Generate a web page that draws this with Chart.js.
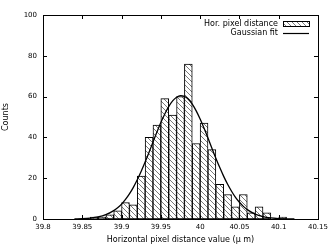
<!DOCTYPE html>
<html><head><meta charset="utf-8">
<script src="https://cdn.jsdelivr.net/npm/chart.js@4"></script>
<style>html,body{margin:0;padding:0;background:#fff}#wrap{width:332px;height:252px}</style>
</head><body><div id="wrap"><canvas id="c" width="332" height="252"></canvas></div>
<script>
// Histogram bins (bin centres, width 0.01) and counts
const binCenters = [39.865, 39.875, 39.885, 39.895, 39.905, 39.915, 39.925, 39.935, 39.945, 39.955,
                    39.965, 39.975, 39.985, 39.995, 40.005, 40.015, 40.025, 40.035, 40.045, 40.055,
                    40.065, 40.075, 40.085, 40.095, 40.105];
const counts = [1, 1, 2, 4, 8, 7, 21, 40, 46, 59,
                51, 60, 76, 37, 47, 34, 17, 12, 6, 12,
                3, 6, 3, 0, 1];
// Gaussian fit curve points
const fitX = [39.84, 39.85, 39.86, 39.87, 39.88, 39.89, 39.895, 39.90, 39.905, 39.91, 39.915, 39.92, 39.925,
              39.93, 39.935, 39.94, 39.945, 39.95, 39.955, 39.96, 39.965, 39.97, 39.975, 39.98, 39.985,
              39.99, 39.995, 40.00, 40.005, 40.01, 40.015, 40.02, 40.025, 40.03, 40.035, 40.04, 40.045,
              40.05, 40.055, 40.06, 40.07, 40.08, 40.09, 40.10, 40.11, 40.12];
const fitY = [0.07, 0.18, 0.44, 1.0, 2.1, 4.1, 5.5, 7.3, 9.6, 12.3, 15.5, 19.2, 23.4,
              27.9, 32.7, 37.7, 42.6, 47.3, 51.5, 55.1, 57.9, 59.7, 60.5, 60.1, 58.7,
              56.3, 53.0, 49.0, 44.5, 39.7, 34.7, 29.8, 25.2, 20.9, 17.0, 13.6, 10.6,
              8.2, 6.2, 4.6, 2.4, 1.16, 0.53, 0.22, 0.09, 0.03];
const xTicks = [39.8, 39.85, 39.9, 39.95, 40, 40.05, 40.1, 40.15];
const yTicks = [0, 20, 40, 60, 80, 100];
const seriesNames = ['Hor. pixel distance', 'Gaussian fit'];
const xTitle = 'Horizontal pixel distance value (\u03bc m)';
const yTitle = 'Counts';

function makeHatch() {
  const s = 5;
  const pc = document.createElement('canvas');
  pc.width = s; pc.height = s;
  const g = pc.getContext('2d');
  g.fillStyle = '#fff'; g.fillRect(0, 0, s, s);
  g.strokeStyle = '#6a6a6a'; g.lineWidth = 0.9;
  g.beginPath();
  g.moveTo(-1, -1); g.lineTo(s + 1, s + 1);
  g.moveTo(-1, s - 1); g.lineTo(1, s + 1);
  g.moveTo(s - 1, -1); g.lineTo(s + 1, 1);
  g.stroke();
  return document.getElementById('c').getContext('2d').createPattern(pc, 'repeat');
}
const hatch = makeHatch();

const textFont = '"DejaVu Sans", sans-serif';
const tickFont = '"DejaVu Sans", sans-serif';

const framePlugin = {
  id: 'frame',
  afterDraw(chart) {
    const ctx = chart.ctx, a = chart.chartArea;
    const xs = chart.scales.x, ys = chart.scales.y;
    ctx.save();
    ctx.strokeStyle = '#000'; ctx.lineWidth = 1;
    ctx.strokeRect(Math.round(a.left) + 0.5, Math.round(a.top) + 0.5,
                   Math.round(a.right - a.left), Math.round(a.bottom - a.top));
    const L = 4;
    ctx.beginPath();
    xTicks.forEach(v => {
      const px = Math.round(xs.getPixelForValue(v)) + 0.5;
      ctx.moveTo(px, a.bottom); ctx.lineTo(px, a.bottom - L);
      ctx.moveTo(px, a.top); ctx.lineTo(px, a.top + L);
    });
    yTicks.forEach(v => {
      const py = Math.round(ys.getPixelForValue(v)) + 0.5;
      ctx.moveTo(a.left, py); ctx.lineTo(a.left + L, py);
      ctx.moveTo(a.right, py); ctx.lineTo(a.right - L, py);
    });
    ctx.stroke();
    // key (legend) inside plot, gnuplot style
    ctx.font = '8px ' + textFont;
    ctx.fillStyle = '#000';
    ctx.textAlign = 'right'; ctx.textBaseline = 'middle';
    const tx = 278, bx0 = 283, bx1 = 309, y1 = 24, y2 = 33;
    ctx.fillText(chart.data.datasets[0].label, tx, y1);
    ctx.fillText(chart.data.datasets[1].label, tx, y2);
    ctx.fillStyle = hatch;
    ctx.fillRect(bx0, y1 - 2.5, bx1 - bx0, 5);
    ctx.strokeRect(bx0 + 0.5, y1 - 2.5, bx1 - bx0, 5);
    ctx.beginPath();
    ctx.lineWidth = 1.2;
    ctx.moveTo(bx0, y2 + 0.5); ctx.lineTo(bx1, y2 + 0.5);
    ctx.stroke();
    ctx.restore();
  }
};

new Chart(document.getElementById('c'), {
  data: {
    datasets: [
      {
        type: 'bar',
        label: seriesNames[0],
        data: binCenters.map((x, i) => ({x: x, y: counts[i]})),
        backgroundColor: hatch,
        borderColor: '#000',
        borderWidth: 1,
        borderSkipped: false,
        barPercentage: 1,
        categoryPercentage: 1,
        grouped: false,
        order: 2
      },
      {
        type: 'line',
        label: seriesNames[1],
        data: fitX.map((x, i) => ({x: x, y: fitY[i]})),
        borderColor: '#000',
        borderWidth: 1.3,
        pointRadius: 0,
        fill: false,
        cubicInterpolationMode: 'monotone',
        order: 1
      }
    ]
  },
  options: {
    responsive: false,
    animation: false,
    devicePixelRatio: 1,
    layout: {padding: {top: 15, right: 12, left: 0, bottom: 0}},
    plugins: {legend: {display: false}, tooltip: {enabled: false}},
    scales: {
      x: {
        type: 'linear', min: 39.8, max: 40.15, offset: false,
        grid: {display: false, drawTicks: false, offset: false},
        border: {display: false},
        afterBuildTicks: s => { s.ticks = xTicks.map(v => ({value: v})); },
        afterFit: s => { s.height = 33; },
        ticks: {color: '#000', padding: 4, maxRotation: 0, autoSkip: false,
                font: {family: tickFont, size: 7}, callback: v => String(v)},
        title: {display: true, text: xTitle, color: '#000', padding: {top: 0, bottom: 7},
                font: {family: textFont, size: 8}}
      },
      y: {
        type: 'linear', min: 0, max: 100,
        grid: {display: false, drawTicks: false},
        border: {display: false},
        afterBuildTicks: s => { s.ticks = yTicks.map(v => ({value: v})); },
        afterFit: s => { s.width = 43; },
        ticks: {color: '#000', padding: 6, font: {family: tickFont, size: 7}, callback: v => String(v)},
        title: {display: true, text: yTitle, color: '#000', padding: {top: 1, bottom: 0},
                font: {family: textFont, size: 8}}
      }
    }
  },
  plugins: [framePlugin]
});
</script>
</body></html>
